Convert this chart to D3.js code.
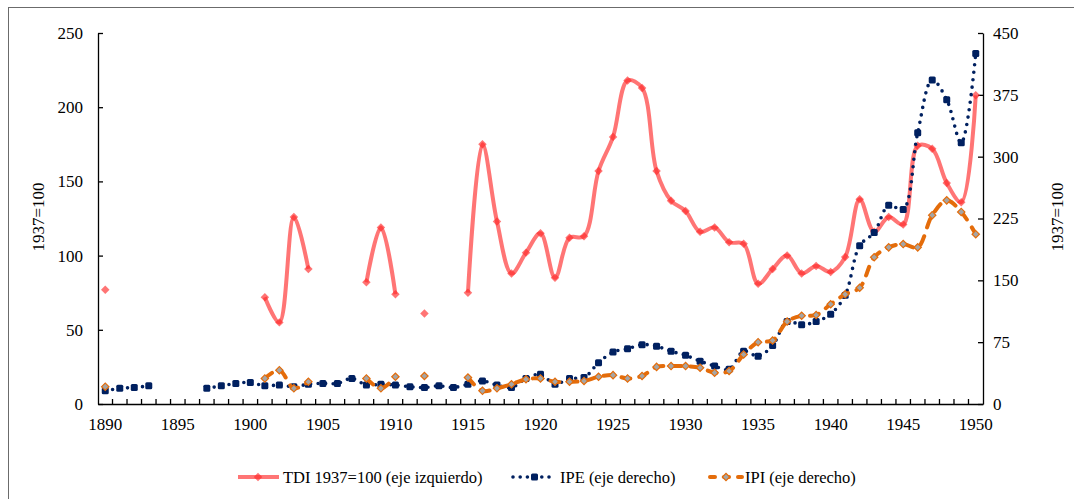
<!DOCTYPE html>
<html>
<head>
<meta charset="utf-8">
<script src="https://cdn.jsdelivr.net/npm/d3@7"></script>
<style>
  body { margin: 0; background: #fff; }
  svg text { font-family: "Liberation Serif", "Times New Roman", serif; fill: #000; }
</style>
</head>
<body>
<div id="chart"></div>
<script>
// years 1890..1950
var years = d3.range(1890, 1951);

// TDI 1937=100 (left axis)
var tdi = [77, null, null, null, null, null, null, null, null, null,
  null, 72, 55, 126, 91, null, null, null, 82, 119,
  74, null, 61, null, null, 75, 175, 123, 88, 102,
  115, 85, 112, 113, 157, 180, 218, 213, 157, 137,
  130, 116, 119, 109, 108, 81, 91, 100, 88, 93,
  89, 99, 138, 116, 126, 121, 174, 172, 149, 136, 208];

// IPE (right axis)
var ipe = [16, 19, 20, 22, null, null, null, 19, 22, 25,
  26, 22, 23, 21, 24, 25, 25, 31, 23, 24,
  23, 21, 20, 22, 20, 24, 28, 23, 20, 31,
  36, 24, 31, 32, 50, 63, 67, 72, 70, 64,
  59, 52, 46, 42, 64, 58, 71, 100, 96, 100,
  109, 132, 192, 208, 241, 236, 329, 393, 369, 317, 425];

// IPI (right axis)
var ipi = [21, null, null, null, null, null, null, null, null, null,
  null, 31, 41, 19, 27, null, null, null, 31, 19,
  33, null, 34, null, null, 32, 16, 19, 24, 30,
  31, 27, 27, 28, 33, 35, 31, 34, 45, 46,
  46, 44, 38, 40, 60, 75, 77, 100, 107, 108,
  121, 133, 141, 178, 190, 194, 190, 229, 247, 233, 206];

var leftTicks = [0, 50, 100, 150, 200, 250];
var rightTicks = [0, 75, 150, 225, 300, 375, 450];
var xLabels = d3.range(1890, 1951, 5);

var W = 1074, H = 499;
var plotL = 98, plotR = 983, plotT = 33, plotB = 404;

var svg = d3.select("#chart").append("svg")
  .attr("width", W).attr("height", H);

// frame
svg.append("rect")
  .attr("x", 8.5).attr("y", 7.5)
  .attr("width", W).attr("height", H)
  .attr("fill", "none").attr("stroke", "#6b6b6b").attr("stroke-width", 1);

var x = d3.scaleBand().domain(years).range([plotL, plotR]);
var cx = function(yr) { return x(yr) + x.bandwidth() / 2; };
var yL = d3.scaleLinear().domain([0, 250]).range([plotB, plotT]);
var yR = d3.scaleLinear().domain([0, 450]).range([plotB, plotT]);

// axes
var gL = svg.append("g").attr("transform", "translate(" + plotL + ",0)")
  .call(d3.axisLeft(yL).tickValues(leftTicks).tickSizeInner(-5).tickSizeOuter(0).tickPadding(15));
var gR = svg.append("g").attr("transform", "translate(" + plotR + ",0)")
  .call(d3.axisRight(yR).tickValues(rightTicks).tickSizeInner(-5).tickSizeOuter(0).tickPadding(10));
var gX = svg.append("g").attr("transform", "translate(0," + plotB + ")")
  .call(d3.axisBottom(x).tickValues(xLabels).tickSize(0).tickPadding(14));
gX.selectAll(".tick line").remove();
[gL, gR, gX].forEach(function(g) {
  g.attr("font-family", null);
  g.selectAll("text").style("font-size", "17px");
  g.selectAll("path, line").attr("stroke", "#000").attr("stroke-width", 1.3);
});
// x ticks between categories, pointing up
svg.append("g").selectAll("line")
  .data(years.slice(1))
  .enter().append("line")
  .attr("x1", function(d) { return x(d); }).attr("x2", function(d) { return x(d); })
  .attr("y1", plotB).attr("y2", plotB - 5)
  .attr("stroke", "#000").attr("stroke-width", 1.3);

// axis titles
svg.append("text")
  .attr("transform", "translate(44,217) rotate(-90)")
  .attr("text-anchor", "middle").style("font-size", "17px").text("1937=100");
svg.append("text")
  .attr("transform", "translate(1063,217) rotate(-90)")
  .attr("text-anchor", "middle").style("font-size", "17px").text("1937=100");

function rows(vals) {
  return years.map(function(yr, i) { return { yr: yr, v: vals[i] }; });
}
function lineFor(scale) {
  return d3.line()
    .defined(function(d) { return d.v != null; })
    .x(function(d) { return cx(d.yr); })
    .y(function(d) { return scale(d.v); })
    .curve(d3.curveCatmullRom.alpha(0.5));
}

var tdiRows = rows(tdi), ipeRows = rows(ipe), ipiRows = rows(ipi);

// TDI
svg.append("path").datum(tdiRows)
  .attr("d", lineFor(yL))
  .attr("fill", "none").attr("stroke", "#ff2020").attr("stroke-opacity", 0.62)
  .attr("stroke-width", 4).attr("stroke-linejoin", "round");
svg.append("g").selectAll("rect")
  .data(tdiRows.filter(function(d) { return d.v != null; }))
  .enter().append("rect")
  .attr("x", -3).attr("y", -3).attr("width", 6).attr("height", 6)
  .attr("transform", function(d) { return "translate(" + cx(d.yr) + "," + yL(d.v) + ") rotate(45)"; })
  .attr("fill", "#ff2a2a").attr("fill-opacity", 0.65);

// IPE
svg.append("path").datum(ipeRows)
  .attr("d", lineFor(yR))
  .attr("fill", "none").attr("stroke", "#002060")
  .attr("stroke-width", 3.6).attr("stroke-linecap", "round")
  .attr("stroke-dasharray", "0 7.5");
svg.append("g").selectAll("rect")
  .data(ipeRows.filter(function(d) { return d.v != null; }))
  .enter().append("rect")
  .attr("x", function(d) { return cx(d.yr) - 3.5; })
  .attr("y", function(d) { return yR(d.v) - 3.5; })
  .attr("width", 7).attr("height", 7).attr("rx", 1.5)
  .attr("fill", "#002060");

// IPI
svg.append("path").datum(ipiRows)
  .attr("d", lineFor(yR))
  .attr("fill", "none").attr("stroke", "#e46c0a")
  .attr("stroke-width", 4).attr("stroke-linecap", "round")
  .attr("stroke-dasharray", "9 9");
svg.append("g").selectAll("rect")
  .data(ipiRows.filter(function(d) { return d.v != null; }))
  .enter().append("rect")
  .attr("x", -2.6).attr("y", -2.6).attr("width", 5.2).attr("height", 5.2)
  .attr("transform", function(d) { return "translate(" + cx(d.yr) + "," + yR(d.v) + ") rotate(45)"; })
  .attr("fill", "#a5a5a5").attr("stroke", "#e46c0a").attr("stroke-width", 1.2);

// legend
var legY = 477;
var leg = svg.append("g");
// TDI
leg.append("line").attr("x1", 238).attr("x2", 279).attr("y1", legY).attr("y2", legY)
  .attr("stroke", "#ff2020").attr("stroke-opacity", 0.62).attr("stroke-width", 4);
leg.append("rect").attr("x", -3).attr("y", -3).attr("width", 6).attr("height", 6)
  .attr("transform", "translate(258," + legY + ") rotate(45)")
  .attr("fill", "#ff2a2a").attr("fill-opacity", 0.65);
leg.append("text").attr("x", 283).attr("y", legY + 5.5).style("font-size", "16.5px")
  .text("TDI 1937=100 (eje izquierdo)");
// IPE
leg.append("line").attr("x1", 513).attr("x2", 556).attr("y1", legY).attr("y2", legY)
  .attr("stroke", "#002060").attr("stroke-width", 3.6).attr("stroke-linecap", "round")
  .attr("stroke-dasharray", "0 7.2");
leg.append("rect").attr("x", 531).attr("y", legY - 3.5).attr("width", 7).attr("height", 7)
  .attr("rx", 1.5).attr("fill", "#002060");
leg.append("text").attr("x", 560).attr("y", legY + 5.5).style("font-size", "16.5px")
  .text("IPE (eje derecho)");
// IPI
leg.append("line").attr("x1", 710).attr("x2", 742).attr("y1", legY).attr("y2", legY)
  .attr("stroke", "#e46c0a").attr("stroke-width", 4).attr("stroke-linecap", "round")
  .attr("stroke-dasharray", "5 9");
leg.append("rect").attr("x", -2.6).attr("y", -2.6).attr("width", 5.2).attr("height", 5.2)
  .attr("transform", "translate(726," + legY + ") rotate(45)")
  .attr("fill", "#a5a5a5").attr("stroke", "#e46c0a").attr("stroke-width", 1.2);
leg.append("text").attr("x", 745).attr("y", legY + 5.5).style("font-size", "16.5px")
  .text("IPI (eje derecho)");
</script>
</body>
</html>
